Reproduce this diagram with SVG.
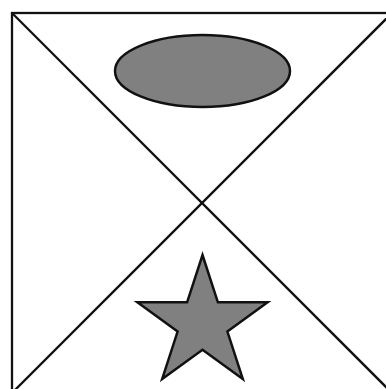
<svg xmlns="http://www.w3.org/2000/svg" width="386" height="389" viewBox="0 0 386 389">
<style>
.ln{stroke:#111;stroke-width:2.3;fill:none}
.shape{fill:#808080;stroke:#111;stroke-width:2.5;stroke-linejoin:miter}
</style>
<rect width="386" height="389" fill="#fff"/>
<g id="frame">
<rect class="ln" x="12" y="13" width="380" height="380"/>
</g>
<g id="connectors">
<line class="ln" x1="12" y1="13" x2="392" y2="393"/>
<line class="ln" x1="392" y1="13" x2="12" y2="393"/>
</g>
<g id="ellipse">
<ellipse class="shape" cx="202.5" cy="71" rx="87.5" ry="36"/>
</g>
<g id="star">
<polygon class="shape" points="202.5,255 217.9,302.3 267.6,302.3 227.4,331.6 242.8,378.9 202.5,349.7 162.2,378.9 177.6,331.6 137.4,302.3 187.1,302.3"/>
</g>
</svg>
